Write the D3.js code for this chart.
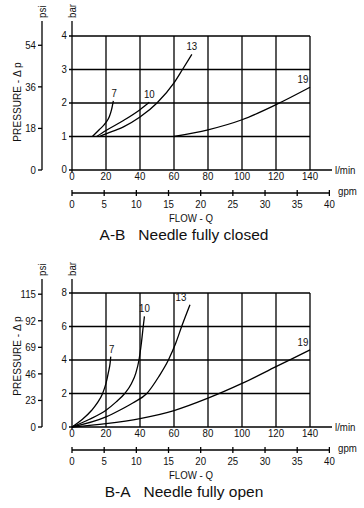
<!DOCTYPE html>
<head>
  <meta charset="utf-8">
  <script src="https://d3js.org/d3.v7.min.js"></script>
  <style>
    body { margin: 0; background: #fff; }
    svg { background: #fff; }
    .tick-label { font-family: "Liberation Sans", Arial, sans-serif; font-size: 11px; fill: #111; }
    .title { font-family: "Liberation Sans", Arial, sans-serif; font-size: 15.5px; fill: #111; }
    .grid, .axis-line { stroke: #000; stroke-width: 1.3; fill: none; }
    .curve { stroke: #000; stroke-width: 1.3; fill: none; }
  </style>
</head>
<body>
  <script>
    // shared axis values
    var flowTicks = [0, 20, 40, 60, 80, 100, 120, 140];
    var gpmTicks = [0, 5, 10, 15, 20, 25, 30, 35, 40];
    var LPM_PER_GPM = 3.785;
    var PSI_PER_BAR = 14.5038;

    // A-B, needle fully closed
    var abBarTicks = [0, 1, 2, 3, 4];
    var abPsiTicks = [0, 18, 36, 54];
    var abCurves = [
      {name: "7",  pts: [[12, 1], [16, 1.2], [20, 1.42], [22, 1.6], [23.3, 1.81], [24.3, 2.06]]},
      {name: "10", pts: [[14.5, 1], [20, 1.18], [30, 1.47], [40, 1.8], [45.5, 2.02]]},
      {name: "13", pts: [[16, 1], [20, 1.08], [30, 1.28], [40, 1.58], [50, 2.0], [60, 2.6], [65, 3.0], [70.5, 3.45]]},
      {name: "19", pts: [[60, 1], [80, 1.2], [100, 1.5], [120, 1.95], [140, 2.47]]}
    ];

    // B-A, needle fully open
    var baBarTicks = [0, 2, 4, 6, 8];
    var baPsiTicks = [0, 23, 46, 69, 92, 115];
    var baCurves = [
      {name: "7",  pts: [[0, 0], [6, 0.45], [11.6, 1], [15, 1.45], [18, 2], [20, 2.6], [21.5, 3.3], [22.4, 3.8], [22.8, 4.2]]},
      {name: "10", pts: [[0, 0], [10, 0.45], [20, 1], [26, 1.5], [31, 2], [35, 2.6], [37.5, 3.2], [39.4, 4], [40.8, 5], [41.9, 6], [42.6, 6.6]]},
      {name: "13", pts: [[0, 0], [20, 0.6], [28, 1], [36, 1.45], [44, 2], [51, 3], [56.7, 4], [61, 5], [64.5, 6], [69.4, 7.3]]},
      {name: "19", pts: [[0, 0], [20, 0.2], [40, 0.5], [60, 0.98], [80, 1.72], [100, 2.6], [120, 3.6], [140, 4.6]]}
    ];

    var svg = d3.select("body").append("svg")
      .attr("width", 364)
      .attr("height", 508);

    var x = d3.scaleLinear().domain([0, 140]).range([72, 310]);
    var xGpm = d3.scaleLinear().domain([0, 40]).range([x(0), x(40 * LPM_PER_GPM)]);

    // narrow labels: squeeze the glyphs horizontally like the original's condensed face
    function tr(px, py, rot) {
      return "translate(" + [px, py] + ")" + (rot ? " rotate(" + rot + ")" : "") + " scale(0.88,1)";
    }

    function drawPanel(cfg) {
      var g = svg.append("g");
      var barMax = d3.max(cfg.barTicks);
      var y = d3.scaleLinear().domain([0, barMax]).range([cfg.y0, cfg.yTop]);
      var yPsi = d3.scaleLinear().domain([0, barMax * PSI_PER_BAR]).range([cfg.y0, cfg.yTop]);

      // grid
      g.selectAll(".hgrid").data(cfg.barTicks.filter(d => d > 0)).enter().append("line")
        .attr("class", "grid")
        .attr("x1", x(0) - 3).attr("x2", x(140))
        .attr("y1", d => y(d)).attr("y2", d => y(d));
      g.selectAll(".vgrid").data(flowTicks.filter(d => d > 0)).enter().append("line")
        .attr("class", "grid")
        .attr("x1", d => x(d)).attr("x2", d => x(d))
        .attr("y1", y(0)).attr("y2", y(barMax));

      // flow axis
      g.append("line").attr("class", "axis-line")
        .attr("x1", x(0) - 3).attr("x2", 332).attr("y1", y(0)).attr("y2", y(0));
      g.selectAll(".xl").data(flowTicks).enter().append("text")
        .attr("class", "tick-label")
        .attr("transform", d => tr(x(d), y(0) + 10))
        .attr("text-anchor", "middle")
        .text(d => d);
      g.append("text").attr("class", "tick-label")
        .attr("transform", tr(335, y(0) + 4)).text("l/min");

      // gpm axis
      var gy = y(0) + 23;
      g.append("line").attr("class", "axis-line")
        .attr("x1", xGpm(0)).attr("x2", xGpm(40)).attr("y1", gy).attr("y2", gy);
      g.selectAll(".gt").data(gpmTicks).enter().append("line")
        .attr("class", "axis-line")
        .attr("x1", d => xGpm(d)).attr("x2", d => xGpm(d))
        .attr("y1", gy - 3).attr("y2", gy + 3);
      g.selectAll(".gl").data(gpmTicks).enter().append("text")
        .attr("class", "tick-label")
        .attr("transform", d => tr(xGpm(d), gy + 15))
        .attr("text-anchor", "middle")
        .text(d => d);
      g.append("text").attr("class", "tick-label")
        .attr("transform", tr(338, gy + 2)).text("gpm");

      g.append("text").attr("class", "tick-label")
        .attr("transform", tr(191, gy + 29))
        .attr("text-anchor", "middle")
        .text("FLOW - Q");
      g.append("text").attr("class", "title")
        .attr("x", cfg.titleX).attr("y", gy + 47)
        .attr("text-anchor", "middle")
        .text(cfg.title);

      // bar axis
      g.append("line").attr("class", "axis-line")
        .attr("x1", x(0)).attr("x2", x(0)).attr("y1", y(0) + 2).attr("y2", cfg.axisTop);
      g.selectAll(".bl").data(cfg.barTicks).enter().append("text")
        .attr("class", "tick-label")
        .attr("transform", d => tr(x(0) - 5, y(d) + 3))
        .attr("text-anchor", "end")
        .text(d => d);
      g.append("text").attr("class", "tick-label")
        .attr("transform", tr(x(0) + 4, cfg.axisTop - 3, -90))
        .text("bar");

      // psi axis
      var px = 42;
      g.append("line").attr("class", "axis-line")
        .attr("x1", px).attr("x2", px).attr("y1", y(0)).attr("y2", cfg.axisTop);
      g.selectAll(".pt").data(cfg.psiTicks).enter().append("line")
        .attr("class", "axis-line")
        .attr("x1", px - 4).attr("x2", px)
        .attr("y1", d => yPsi(d)).attr("y2", d => yPsi(d));
      g.selectAll(".pl").data(cfg.psiTicks).enter().append("text")
        .attr("class", "tick-label")
        .attr("transform", d => tr(px - 6, yPsi(d) + 4))
        .attr("text-anchor", "end")
        .text(d => d);
      g.append("text").attr("class", "tick-label")
        .attr("transform", tr(px + 4, cfg.axisTop - 3, -90))
        .text("psi");

      g.append("text").attr("class", "tick-label")
        .attr("transform", tr(21, cfg.labelY, -90))
        .attr("text-anchor", "middle")
        .style("font-size", "11.5px")
        .text("PRESSURE - \u0394 p");

      // curves
      var line = d3.line()
        .x(d => x(d[0])).y(d => y(d[1]))
        .curve(d3.curveMonotoneX);
      g.selectAll(".curve").data(cfg.curves).enter().append("path")
        .attr("class", "curve")
        .attr("d", d => line(d.pts));
      g.selectAll(".cl").data(cfg.curves).enter().append("text")
        .attr("class", "tick-label")
        .attr("text-anchor", "middle")
        .attr("transform", d => tr(x(d.pts[d.pts.length - 1][0]) + (cfg.labelDx[d.name] || 0),
                                   y(d.pts[d.pts.length - 1][1]) - 4))
        .text(d => d.name);
    }

    drawPanel({
      barTicks: abBarTicks, psiTicks: abPsiTicks, curves: abCurves,
      y0: 170, yTop: 36, axisTop: 21, labelY: 102,
      title: "A-B\u00a0\u00a0\u00a0Needle fully closed", titleX: 184,
      labelDx: {"7": 1, "10": 0, "13": 0, "19": -7}
    });
    drawPanel({
      barTicks: baBarTicks, psiTicks: baPsiTicks, curves: baCurves,
      y0: 427, yTop: 293, axisTop: 279, labelY: 356,
      title: "B-A\u00a0\u00a0\u00a0Needle fully open", titleX: 184,
      labelDx: {"7": 1, "10": 0, "13": -9, "19": -7}
    });
  </script>
</body>
